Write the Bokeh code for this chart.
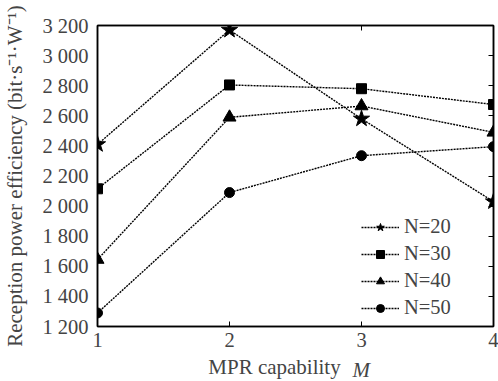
from bokeh.plotting import figure
from bokeh.models import (Range1d, FixedTicker, LinearAxis, Legend, LegendItem,
                          Label, CustomJSTickFormatter)
from bokeh.embed import file_html
from bokeh.resources import INLINE

# ---- data ----
m_values = [1, 2, 3, 4]
n20 = [2410, 3170, 2580, 2030]
n30 = [2115, 2805, 2780, 2675]
n40 = [1645, 2590, 2665, 2490]
n50 = [1290, 2090, 2335, 2395]
series_labels = ["N=20", "N=30", "N=40", "N=50"]
y_ticks = [1200, 1400, 1600, 1800, 2000, 2200, 2400, 2600, 2800, 3000, 3200]
y_tick_labels = ["1 200", "1 400", "1 600", "1 800", "2 000", "2 200",
                 "2 400", "2 600", "2 800", "3 000", "3 200"]
x_ticks = [1, 2, 3, 4]

FONT = "Liberation Serif"
FS = "20.5px"

p = figure(width=498, height=381, output_backend="svg", toolbar_location=None,
           x_range=Range1d(1, 4), y_range=Range1d(1200, 3200),
           min_border_left=95, min_border_right=5, min_border_top=25,
           min_border_bottom=53)
p.background_fill_color = "white"
p.border_fill_color = "white"
p.outline_line_color = "black"
p.outline_line_width = 1.5
p.grid.visible = False

# main axes
xa = p.xaxis[0]
xa.ticker = FixedTicker(ticks=x_ticks)
xa.major_tick_in = 5
xa.major_tick_out = 0
xa.minor_tick_line_color = None
xa.axis_line_width = 1.5
xa.major_label_text_font = FONT
xa.major_label_text_font_size = FS
xa.major_label_standoff = 6
xa.axis_label = "MPR capability" + "\u00a0" * 8
xa.axis_label_text_font = FONT
xa.axis_label_text_font_size = "21px"
xa.axis_label_text_font_style = "normal"
xa.axis_label_standoff = 5

ya = p.yaxis[0]
ya.ticker = FixedTicker(ticks=y_ticks)
ya.major_label_overrides = {t: l for t, l in zip(y_ticks, y_tick_labels)}
ya.major_tick_in = 0
ya.major_tick_out = 0
ya.minor_tick_line_color = None
ya.axis_line_width = 1.5
ya.major_label_text_font = FONT
ya.major_label_text_font_size = FS
ya.major_label_standoff = 9
ya.axis_label = "Reception power efficiency (bit\u00b7s\u207b\u00b9\u00b7W\u207b\u00b9)"
ya.axis_label_text_font = FONT
ya.axis_label_text_font_size = "21px"
ya.axis_label_text_font_style = "normal"
ya.axis_label_standoff = 12

blank = CustomJSTickFormatter(code="return ''")
ra = LinearAxis(ticker=FixedTicker(ticks=y_ticks), formatter=blank,
                major_tick_in=5, major_tick_out=0, minor_tick_line_color=None,
                axis_line_width=1.5, major_label_standoff=0,
                major_label_text_font_size="1px")
p.add_layout(ra, "right")
ta = LinearAxis(ticker=FixedTicker(ticks=x_ticks), formatter=blank,
                major_tick_in=5, major_tick_out=0, minor_tick_line_color=None,
                axis_line_width=1.5, major_label_standoff=0,
                major_label_text_font_size="1px")
p.add_layout(ta, "above")

dash = "2 1"
lw = 1.4
items = []
specs = [(n20, "star", 17), (n30, "square", 10), (n40, "triangle", 13), (n50, "circle", 10)]
for (ys, marker, size), lab in zip(specs, series_labels):
    r1 = p.line(m_values, ys, line_color="black", line_width=lw, line_dash=dash)
    r2 = p.scatter(m_values, ys, marker=marker, size=size, fill_color="black",
                   line_color="black")
    items.append(LegendItem(label=lab, renderers=[r1, r2]))

legend = Legend(items=items, location=(264, 7), padding=0, margin=0,
                border_line_color=None, background_fill_alpha=0,
                glyph_width=38, glyph_height=20, label_height=20, spacing=4,
                label_standoff=5, label_text_font=FONT, label_text_font_size=FS)
p.add_layout(legend, "center")

# italic M of the x-axis title (hosted in the top panel, drawn at the bottom)
p.add_layout(Label(x=255, y=-344, x_units="screen", y_units="screen",
                   text="M", text_align="left", text_baseline="alphabetic",
                   text_font=FONT, text_font_size="21px",
                   text_font_style="italic"), "above")

open("out.html", "w").write(file_html(p, INLINE))
